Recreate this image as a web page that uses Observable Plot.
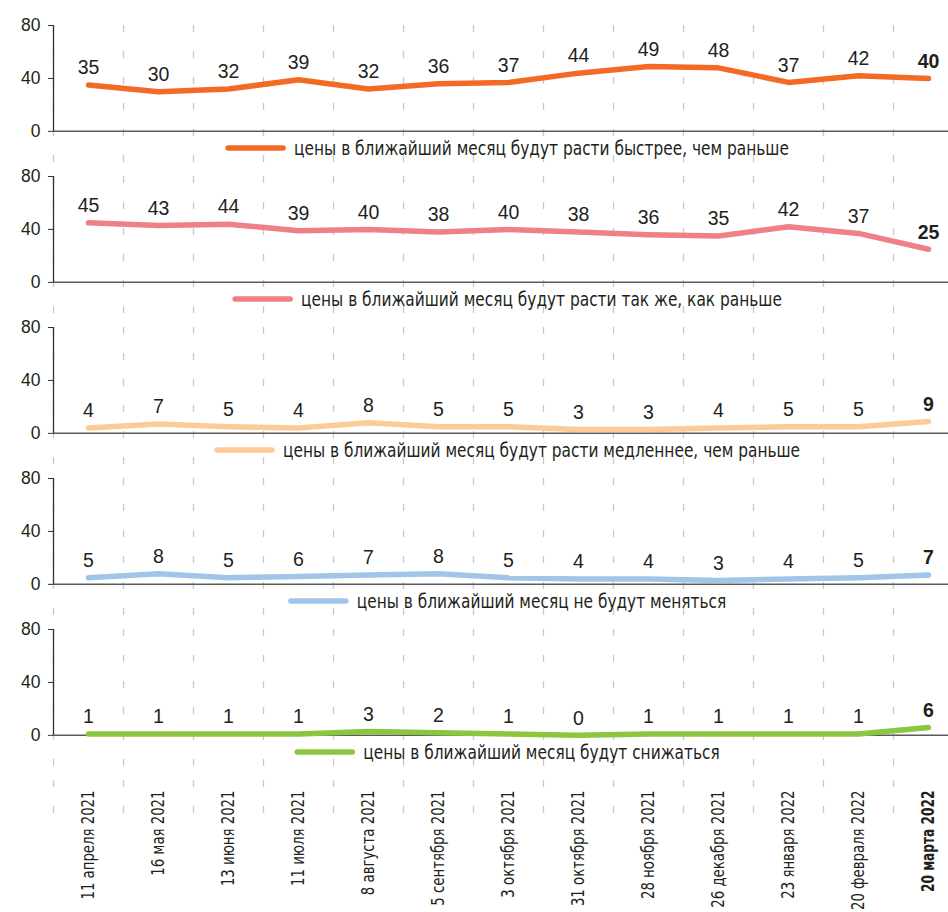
<!DOCTYPE html>
<html>
<head>
<meta charset="utf-8">
<script src="https://cdn.jsdelivr.net/npm/d3@7"></script>
<script src="https://cdn.jsdelivr.net/npm/@observablehq/plot@0.6"></script>
<style>
  body { margin: 0; background: #fff; }
  #chart { width: 948px; height: 912px; }
</style>
</head>
<body>
<div id="chart"></div>
<script>
// ---- data ----
const dates = ["11 апреля 2021", "16 мая 2021", "13 июня 2021", "11 июля 2021", "8 августа 2021",
  "5 сентября 2021", "3 октября 2021", "31 октября 2021", "28 ноября 2021", "26 декабря 2021",
  "23 января 2022", "20 февраля 2022", "20 марта 2022"];

const seriesNames = [
  "цены в ближайший месяц будут расти быстрее, чем раньше",
  "цены в ближайший месяц будут расти так же, как раньше",
  "цены в ближайший месяц будут расти медленнее, чем раньше",
  "цены в ближайший месяц не будут меняться",
  "цены в ближайший месяц будут снижаться"
];
const seriesColors = ["#f36a25", "#f07f86", "#fdca98", "#9fc5e8", "#8cc63f"];

const faster   = [35, 30, 32, 39, 32, 36, 37, 44, 49, 48, 37, 42, 40];
const same     = [45, 43, 44, 39, 40, 38, 40, 38, 36, 35, 42, 37, 25];
const slower   = [4, 7, 5, 4, 8, 5, 5, 3, 3, 4, 5, 5, 9];
const noChange = [5, 8, 5, 6, 7, 8, 5, 4, 4, 3, 4, 5, 7];
const decrease = [1, 1, 1, 1, 3, 2, 1, 0, 1, 1, 1, 1, 6];

const yTicks = [0, 40, 80];

// ---- derived tables ----
const seriesValues = [faster, same, slower, noChange, decrease];
const rows = seriesNames.flatMap((name, s) => seriesValues[s].map((value, i) => ({name, i, value})));
const last = dates.length - 1;
const idx = dates.map((d, i) => i);
const xDomain = [-0.5, last + 0.5];
const gridPos = dates.map((d, i) => i - 0.5);
const legendRows = seriesNames.map((name, s) => ({name, color: seriesColors[s]}));

const condensed = "'Liberation Sans Narrow', 'DejaVu Sans Condensed', 'Liberation Sans', sans-serif";
const regular = "'Liberation Sans', Arial, sans-serif";
const ink = "#231f20";
const gridColor = "#c9c9c9";

const plot = Plot.plot({
  width: 948,
  height: 912,
  marginTop: 24,
  marginBottom: 132,
  marginLeft: 53,
  marginRight: 0,
  style: {fontFamily: regular, fontSize: "16px", color: ink, background: "#fff"},
  x: {type: "linear", domain: xDomain, range: [53, 963], axis: null},
  y: {domain: [-34.1, 80], axis: null},
  fy: {domain: seriesNames, padding: 0, axis: null},
  color: {domain: seriesNames, range: seriesColors},
  marks: [
    Plot.gridX(gridPos, {stroke: gridColor, strokeOpacity: 1, strokeWidth: 1.3, strokeDasharray: "7,19"}),
    Plot.ruleY([0], {stroke: "#5a5a5a", strokeWidth: 1.5}),
    Plot.ruleX([xDomain[0]], {y1: yTicks[0], y2: yTicks[yTicks.length - 1], stroke: "#333", strokeWidth: 1.3}),
    Plot.axisY(yTicks, {tickSize: 5, tickPadding: 8, fontSize: 17.5, stroke: "#333", fill: ink, label: null}),
    Plot.line(rows, {fy: "name", x: "i", y: "value", stroke: "name", strokeWidth: 5.5,
      curve: "linear", strokeLinecap: "round", strokeLinejoin: "round"}),
    Plot.text(rows, {filter: d => d.i !== last, fy: "name", x: "i", y: "value", text: "value",
      dy: -17, fontSize: 19.5, fill: ink}),
    Plot.text(rows, {filter: d => d.i === last, fy: "name", x: "i", y: "value", text: "value",
      dy: -17, fontSize: 19.5, fontWeight: "bold", fill: ink}),
    Plot.text(legendRows, {fy: "name", text: "name", frameAnchor: "bottom", dy: -22, dx: 40.5,
      fontSize: 19, fontFamily: condensed, fill: ink}),
    Plot.axisX(gridPos, {tickSize: 42, tickFormat: () => "", stroke: gridColor, strokeWidth: 1.3,
      strokeDasharray: "7,19", label: null}),
    Plot.axisX(idx, {tickSize: 0, tickPadding: 10, tickRotate: -90, tickFormat: i => dates[i],
      fontSize: 18, fontFamily: condensed, label: null, fill: ink})
  ]
});

document.getElementById("chart").appendChild(plot);

// ---- narrow the condensed texts, add legend swatches, bold last date ----
const svgNS = "http://www.w3.org/2000/svg";
function narrow(el, k) {
  const len = el.getComputedTextLength();
  el.setAttribute("textLength", len * k);
  el.setAttribute("lengthAdjust", "spacingAndGlyphs");
}
d3.select(plot).selectAll("text").each(function () {
  const t = this.textContent;
  if (dates.includes(t)) narrow(this, 0.82);
  if (t === dates[last]) this.setAttribute("font-weight", "bold");
  const s = seriesNames.indexOf(t);
  if (s >= 0) {
    narrow(this, 0.9);
    const bb = this.getBBox();
    const line = document.createElementNS(svgNS, "line");
    const tr = this.getAttribute("transform");
    if (tr) line.setAttribute("transform", tr);
    const y = bb.y + bb.height * 0.52;
    line.setAttribute("x1", bb.x - 11 - 55);
    line.setAttribute("x2", bb.x - 11);
    line.setAttribute("y1", y);
    line.setAttribute("y2", y);
    line.setAttribute("stroke", legendRows[s].color);
    line.setAttribute("stroke-width", 5.5);
    line.setAttribute("stroke-linecap", "round");
    this.parentNode.insertBefore(line, this);
  }
});
</script>
</body>
</html>
